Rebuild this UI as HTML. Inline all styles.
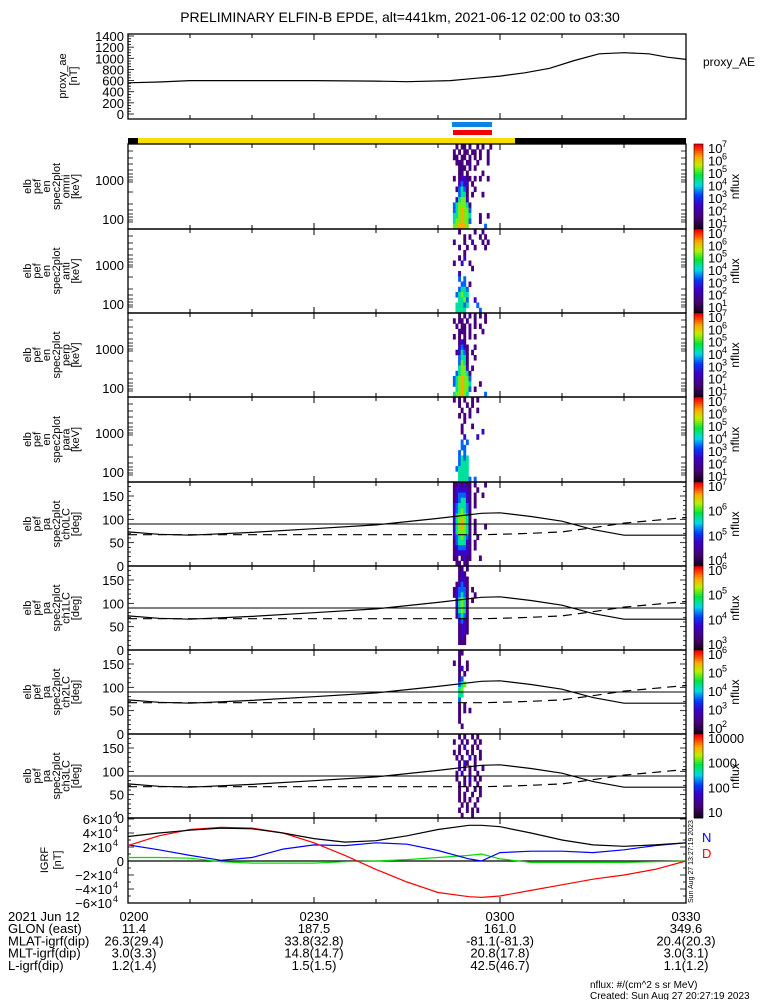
<!DOCTYPE html>
<html><head><meta charset="utf-8"><style>
html,body{margin:0;padding:0;background:#fff}
svg{display:block;font-family:"Liberation Sans",sans-serif}
</style></head><body>
<svg id="s" width="775" height="1000" viewBox="0 0 775 1000">
<text x="400" y="22" font-size="14" text-anchor="middle">PRELIMINARY ELFIN-B EPDE, alt=441km, 2021-06-12 02:00 to 03:30</text>
<g id="g"></g>
</svg>
<script>
// ---------- data ----------
const aeTimes=[0,5,10,20,30,40,45,52,56,60,64,68,72,76,80,84,87,90];
const aeValues=[560,575,600,600,600,590,580,600,640,680,740,820,960,1080,1100,1080,1020,980];
const aeTicks=[0,200,400,600,800,1000,1200,1400];
const pitchTimes=[0,5,10,20,30,40,50,57,60,65,70,75,80,85,90];
const lossCone=[73,68,66,72,80,88,102,113,114,106,96,78,66,66,66];
const antiLossCone=[67,67,67,67,67,67,67,67,68,70,73,82,92,98,104];
const pitchTicks=[0,50,100,150];
const igrfTimes=[0,5,10,15,20,25,30,35,40,45,50,55,57,60,65,70,75,80,85,90];
const igrfTotal=[3.5,4.0,4.4,4.7,4.6,4.0,3.2,2.7,2.9,3.6,4.5,5.1,5.1,4.9,4.0,3.0,2.3,2.1,2.3,2.6];
const igrfD=[2.2,3.6,4.5,4.8,4.7,4.0,2.6,0.8,-1.2,-3.0,-4.5,-5.1,-5.2,-5.0,-4.2,-3.4,-2.6,-2.0,-1.2,0];
const igrfN=[2.3,1.6,0.8,0.1,0.5,1.7,2.3,2.2,2.6,2.4,1.5,0.3,0,1.2,1.4,1.4,1.2,1.6,2.2,2.6];
const igrfE=[0.5,0.5,0.4,-0.1,-0.3,-0.3,-0.3,-0.1,0,0.2,0.5,0.8,1.0,0.3,-0.2,-0.2,-0.2,-0.2,-0.1,0];
const igrfTickVals=[-6,-4,-2,0,2,4,6];
const specStart=52.4, specColWidth=0.42; // minutes
const gridOmni=[".1.11.1..1.1..1.","1.1.11.11.1..1..","11.11.1.1.1..1..",".111.11..1...1..","..111.1.1.......","..11.1.....1....","1.12211.1.1..1..","..2322.1........",".13431..1.......","..3441.1...1....",".24552..........","3455541.........","3456553.........","4456554...1..1..","4556553...1.....","556665......3..."];
const gridAnt=["..1.....1..1....","....1.1...1.1...","1...1..2...1.1..","..1..1..1...1...","....1...........","..1.2...........","1..2..1.........",".......1........","..2.............","..3.3...........","...33.1.........","..3443..........",".34544..........","..4453..2.......",".44434...3......",".4444.....3....."];
const gridPerp=["..1.1.1.1.1.1...","1.11.1..1...1...",".1.11.1.1.1.....","..111.1....1....","1.1.1.1.1.......","..121...........","..2321..1.......",".12431.1........","..3441..1.......","..3541..........","..4552.1........",".345541.........","3456553.........","3456554...1.....",".456553.1.......","455654......3..."];
const gridPara=["1.1.1..1.1......","..1..1.1........","...1..1..1......","..1.1.1.........","....1...........","...1...1........","...1.......2....","....2....2......","...3.3..........","...33...........","..3.3...........","..3434..........","..3444..........",".34444..........","..4444..........","..44443.3......."];
const gridCh0=["1121211.1...1...","1222221..1......","1233321.1..1....","1234421.1.......","2344431.1.......","2345431.........","2455541.........","2456541.1.......","2456541.1...1...","2455541.1.......","2345431..1......","1344421.1.......","1233321.1.......","1222221.........","11.1211...1.....",".11.11.........."];
const gridCh1=["..11.1..........","..121...........","..1221..........",".12321..........","123331.1........","123431..1.......",".24541.1........",".24541..........",".24541..........",".13431..........","..2321..........","..1221..........","..1221..........","..121...........","..111...........",".................."];
const gridCh2=["..11............","..1.............","1.1..1..........","..12.1..........","..1.1...........","..13............","..345...........","..45............","..44............","..3.............","..1.1...........","..1.1.1.........","..1.............","..1.............","...1............","................"];
const gridCh3=["..1.1..1.1......","1..1.1..1.1.....","..1.2..1.1......","1.1..1.1..1.....",".1.1..2.1.1.....","..1.21..1.......","..2.1.1.1..1....",".1.2..1..1......",".1..1.2.1.1.....","..1.1.1..1......","..1..1..1.1.....","..1.1..1..1.....","..1.1.1..1......","...1.1..1.......","..1..1.1.1......","...1...1........"];
const energyCbLabels=[["10","7"],["10","6"],["10","5"],["10","4"],["10","3"],["10","2"],["10","1"]];
// ---------- helpers ----------
const NS="http://www.w3.org/2000/svg";const G=document.getElementById('g');
const X0=128,X1=686;
function xs(m){return X0+m/90*(X1-X0);}
function mk(tag,at,parent){const e=document.createElementNS(NS,tag);for(const k in at)e.setAttribute(k,at[k]);(parent||G).appendChild(e);return e;}
function txt(x,y,s,size,anchor,fill){const t=mk('text',{x:x,y:y,'font-size':size,'text-anchor':anchor||'start',fill:fill||'#000'});t.textContent=s;return t;}
function cmap(f){const st=[[0,[20,0,30]],[0.12,[70,0,110]],[0.28,[60,0,200]],[0.4,[0,60,255]],[0.52,[0,220,230]],[0.64,[0,230,60]],[0.76,[190,240,0]],[0.86,[255,170,0]],[1,[255,0,0]]];
 for(let i=1;i<st.length;i++){if(f<=st[i][0]){const a=st[i-1],b=st[i];const t=(f-a[0])/(b[0]-a[0]);return 'rgb('+a[1].map((v,j)=>Math.round(v+(b[1][j]-v)*t)).join(',')+')';}}return 'rgb(255,0,0)';}
function frame(top,bot,name){
 const r=mk('rect',{x:X0,y:top,width:X1-X0,height:bot-top,fill:'none',stroke:'#000','stroke-width':1.3});
 
 
 for(let m=10;m<90;m+=10){const L=(m%30==0)?6:4;const x=xs(m);
  mk('line',{x1:x,x2:x,y1:bot,y2:bot-L,stroke:'#000'});mk('line',{x1:x,x2:x,y1:top,y2:top+L,stroke:'#000'});}
}
function leftLabel(lines,cy,x0,dx,name){
 const g=mk('g',{});
 
 
 lines.forEach((s,i)=>{const x=x0+i*dx;const t=mk('text',{x:x,y:cy,'font-size':11,'text-anchor':'middle',transform:'rotate(-90 '+x+' '+cy+')'},g);t.textContent=s;});
}
function yminor(top,bot,n){for(let i=0;i<=n;i++){const y=top+(bot-top)*i/n;mk('line',{x1:X0,x2:X0+4,y1:y,y2:y,stroke:'#000','stroke-width':0.8});mk('line',{x1:X1,x2:X1-4,y1:y,y2:y,stroke:'#000','stroke-width':0.8});}}
function colorbar(top,bot,labels,name){
 const g=mk('g',{});
 
 
 const n=40;for(let i=0;i<n;i++){mk('rect',{x:694,y:bot-(i+1)*(bot-top)/n,width:9,height:(bot-top)/n+0.5,fill:cmap(i/(n-1))},g);}
 mk('rect',{x:694,y:top,width:9,height:bot-top,fill:'none',stroke:'#000','stroke-width':0.6},g);
 labels.forEach((l,i)=>{const y=top+5+i*(bot-top-10)/(labels.length-1)+4;
  const t=mk('text',{x:708,y:y,'font-size':13},g);t.textContent=l[0];
  if(l[1]){const s=mk('text',{x:722,y:y-6,'font-size':9},g);s.textContent=l[1];}});
 const cy=(top+bot)/2;const t=mk('text',{x:739,y:cy,'font-size':12,'text-anchor':'middle',transform:'rotate(-90 739 '+cy+')'},g);t.textContent='nflux';
}
function spec(grid,top,bot,name){
 const g=mk('g',{});
 
 
 const rh=(bot-top)/grid.length;
 grid.forEach((row,r)=>{for(let c=0;c<row.length;c++){const ch=row[c];if(ch=='.')continue;const d=+ch;
  const x=xs(specStart+c*specColWidth);mk('rect',{x:x,y:top+r*rh,width:xs(specColWidth)-X0+0.3,height:rh+0.3,fill:cmap(d/7)},g);}});
}
function poly(times,vals,fy,color,name,dash){
 const pts=times.map((t,i)=>xs(t).toFixed(1)+','+fy(vals[i]).toFixed(1)).join(' ');
 const p=mk('polyline',{points:pts,fill:'none',stroke:color,'stroke-width':1.2});
 if(dash)p.setAttribute('stroke-dasharray',dash);
 
 
}
// ---------- AE panel ----------
(function(){const top=34,bot=119;const fy=v=>114-v/1400*78;
 frame(top,bot,'proxy-ae-panel');
 for(let v=0;v<=1400;v+=50){const y=fy(v);mk('line',{x1:X0,x2:X0+(v%200==0?6:3),y1:y,y2:y,stroke:'#000','stroke-width':0.8});}
 aeTicks.forEach(v=>{txt(124,fy(v)+5,String(v),13,'end');});
 poly(aeTimes,aeValues,fy,'#000','proxy-ae-line');
 leftLabel(['proxy_ae','[nT]'],76,66,11,'proxy-ae-axis-title');
 txt(703,66,'proxy_AE',12,'start');
})();
// ---------- orbit bars ----------
mk('rect',{x:128,y:138,width:10,height:6,fill:'#000'});
mk('rect',{x:138,y:138,width:377,height:6,fill:'#f7de00'});
mk('rect',{x:515,y:138,width:171,height:6,fill:'#000'});
mk('rect',{x:452,y:122,width:40,height:5,fill:'#0a84e8'});
mk('rect',{x:453,y:130,width:39,height:5,fill:'#f00000'});
// ---------- energy spectra ----------
const eTops=[144,229,313,397,482];const eNames=['omni','anti','perp','para'];
const eGrids=[gridOmni,gridAnt,gridPerp,gridPara];
eNames.forEach((nm,i)=>{const top=eTops[i],bot=eTops[i+1];
 spec(eGrids[i],top,bot,'spectrogram-'+nm);
 frame(top,bot,'energy-panel-'+nm);
 [0,7,14,20,26,30,33,36,38,48,60,66,70,73,76,78].forEach(o=>{const y=top+o;if(y<bot){mk('line',{x1:X0,x2:X0+5,y1:y,y2:y,stroke:'#000','stroke-width':0.8});mk('line',{x1:X1,x2:X1-5,y1:y,y2:y,stroke:'#000','stroke-width':0.8});}});
 txt(124,top+41,'1000',13,'end');txt(124,top+80,'100',13,'end');
 leftLabel(['elb','pef','en','spec2plot',nm,'[keV]'],(top+bot)/2,31,9.6,'energy-axis-title-'+nm);
 colorbar(top,bot,energyCbLabels,'colorbar-'+nm);
});
// ---------- pitch angle panels ----------
const pTops=[482,566,650,734,818];
const pGrids=[gridCh0,gridCh1,gridCh2,gridCh3];
const pCb=[[["10","7"],["10","6"],["10","5"],["10","4"]],[["10","6"],["10","5"],["10","4"],["10","3"]],[["10","6"],["10","5"],["10","4"],["10","3"],["10","2"]],[["10000"],["1000"],["100"],["10"]]];
pGrids.forEach((gr,i)=>{const top=pTops[i],bot=pTops[i+1];const fy=v=>bot-v/180*(bot-top);
 spec(gr,top,bot,'pitch-spectrogram-ch'+i);
 frame(top,bot,'pitch-panel-ch'+i);
 for(let v=0;v<=180;v+=10){const y=fy(v);mk('line',{x1:X0,x2:X0+(v%50==0?6:3),y1:y,y2:y,stroke:'#000','stroke-width':0.8});mk('line',{x1:X1,x2:X1-(v%50==0?6:3),y1:y,y2:y,stroke:'#000','stroke-width':0.8});}
 pitchTicks.forEach(v=>txt(124,fy(v)+5,String(v),13,'end'));
 mk('line',{x1:X0,x2:X1,y1:fy(90),y2:fy(90),stroke:'#000','stroke-width':1.1});
 poly(pitchTimes,lossCone,fy,'#000','loss-cone-ch'+i);
 poly(pitchTimes,antiLossCone,fy,'#000','anti-loss-cone-ch'+i,'9,6');
 leftLabel(['elb','pef','pa','spec2plot','ch'+i+'LC','[deg]'],(top+bot)/2,31,9.6,'pitch-axis-title-ch'+i);
 colorbar(top,bot,pCb[i],'colorbar-ch'+i);
});
// ---------- IGRF ----------
(function(){const top=818,bot=903;const fy=v=>861-v*7;
 frame(top,bot,'igrf-panel');
 for(let v=-6;v<=6;v+=1){const y=fy(v);mk('line',{x1:X0,x2:X0+(v%2==0?6:3),y1:y,y2:y,stroke:'#000','stroke-width':0.8});mk('line',{x1:X1,x2:X1-(v%2==0?6:3),y1:y,y2:y,stroke:'#000','stroke-width':0.8});}
 igrfTickVals.forEach(v=>{const y=fy(v)+5;if(v==0){txt(124,y,'0',13,'end');return;}
  txt(112,y,(v<0?'\u2212':'')+Math.abs(v)+'\u00d710',13,'end');txt(113,y-6,'4',9,'start');});
 mk('line',{x1:X0,x2:X1,y1:fy(0),y2:fy(0),stroke:'#000','stroke-width':1.2});
 poly(igrfTimes,igrfE,fy,'#00e000','igrf-east-line');
 poly(igrfTimes,igrfN,fy,'#0000ff','igrf-north-line');
 poly(igrfTimes,igrfD,fy,'#ff0000','igrf-down-line');
 poly(igrfTimes,igrfTotal,fy,'#000','igrf-total-line');
 leftLabel(['IGRF','[nT]'],860,48,13,'igrf-axis-title');
 txt(702,842,'N',13,'start','#0000ff');txt(702,858,'D',13,'start','#ff0000');
 const t=txt(693,903,'Sun Aug 27 13:27:19 2023',7,'start');t.setAttribute('transform','rotate(-90 693 903)');
})();
// ---------- bottom annotation ----------
const ann=[["2021 Jun 12","0200","0230","0300","0330"],["GLON (east)","11.4","187.5","161.0","349.6"],["MLAT-igrf(dip)","26.3(29.4)","33.8(32.8)","-81.1(-81.3)","20.4(20.3)"],["MLT-igrf(dip)","3.0(3.3)","14.8(14.7)","20.8(17.8)","3.0(3.1)"],["L-igrf(dip)","1.2(1.4)","1.5(1.5)","42.5(46.7)","1.1(1.2)"]];
ann.forEach((r,i)=>{const y=921+i*12.2;txt(8,y,r[0],13,'start');[0,30,60,90].forEach((m,j)=>txt(xs(m)+(j==0?6:0),y,r[j+1],13,'middle'));});
txt(590,988,'nflux: #/(cm^2 s sr MeV)',10,'start');
txt(590,999,'Created: Sun Aug 27 20:27:19 2023',10,'start');
</script>
</body></html>
